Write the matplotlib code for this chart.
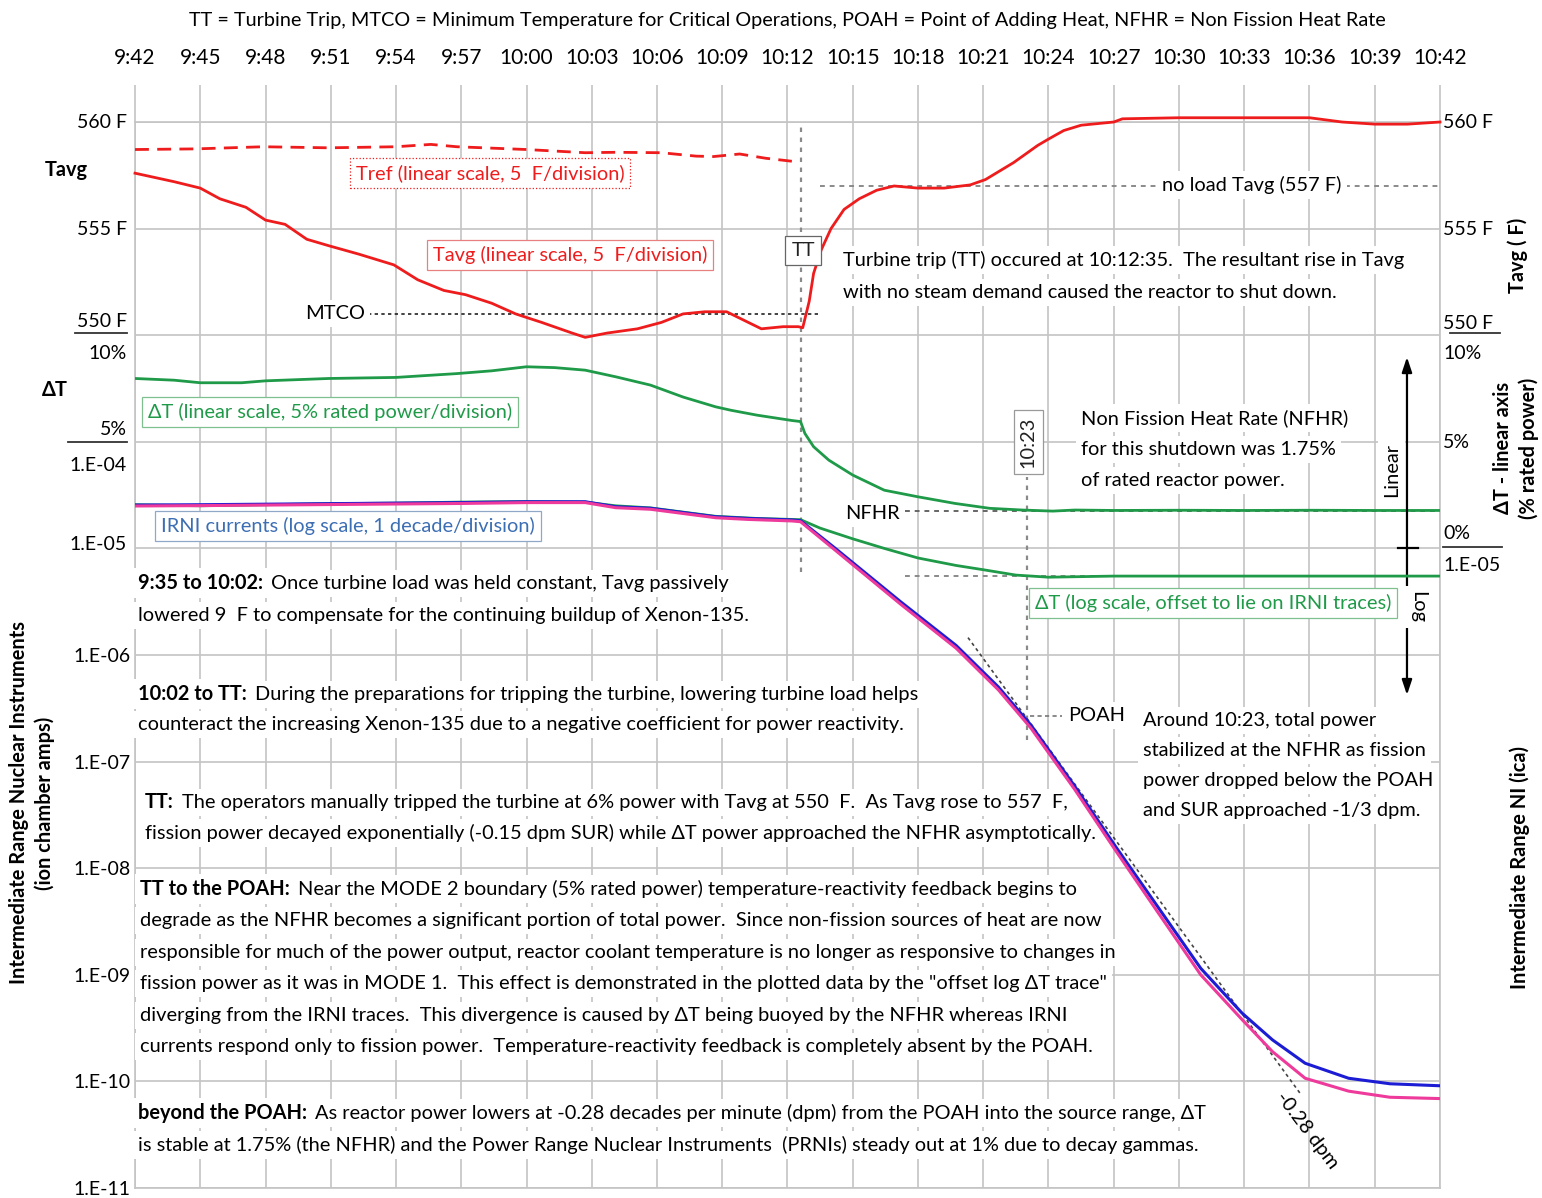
import matplotlib
matplotlib.use("Agg")
import matplotlib.pyplot as plt
from matplotlib.ticker import NullLocator

plt.rcParams["font.family"] = ["Lato", "DejaVu Sans"]

# time axis: minutes after 9:42
tick_min = list(range(0, 61, 3))
tick_lbl = [f"{(9 * 60 + 42 + m) // 60}:{(9 * 60 + 42 + m) % 60:02d}" for m in tick_min]

trip_min = 30.6          # turbine trip at 10:12:35
stab_min = 41.0          # 10:23

# Tavg (F)
tavg_min = [0, 1.8, 3, 3.9, 5.1, 6, 6.9, 7.9, 8.9, 10.3, 11.9, 13, 14.2, 15.2, 16.4,
            17.5, 18.7, 20.1, 20.7, 21.7, 23.1, 24.2, 25.2, 26.2, 27.2, 28.2, 28.8,
            29.8, 30.5, 30.7, 31.0, 31.2, 31.55, 32.0, 32.6, 33.3, 34.1, 34.9, 36,
            37.2, 38.4, 39.1, 40.4, 41.5, 42.0, 42.7, 43.5, 45, 45.4, 48, 51, 54,
            55.5, 57, 58.5, 60]
tavg_f = [557.6, 557.2, 556.9, 556.4, 556.0, 555.4, 555.2, 554.5, 554.2, 553.8, 553.3,
          552.6, 552.1, 551.9, 551.5, 551.0, 550.6, 550.1, 549.9, 550.1, 550.3, 550.6,
          551.0, 551.1, 551.1, 550.6, 550.3, 550.4, 550.4, 550.35, 551.6, 552.9, 554.0,
          555.0, 555.9, 556.4, 556.8, 557.0, 556.9, 556.9, 557.05, 557.3, 558.1, 558.9,
          559.2, 559.6, 559.85, 560.0, 560.15, 560.2, 560.2, 560.2, 560.0, 559.9, 559.9,
          560.0]

# Tref (F), recorded until the trip
tref_min = [0, 2.8, 5.9, 8.9, 12, 13.6, 14.8, 18, 20.7, 22.1, 24.2, 25.8, 26.6, 27.8,
            29.0, 30.2]
tref_f = [558.71, 558.74, 558.84, 558.79, 558.84, 558.95, 558.84, 558.71, 558.56,
          558.58, 558.56, 558.4, 558.38, 558.5, 558.3, 558.16]

# delta-T, % rated power (linear)
dt_min = [0, 1.8, 3, 4.9, 6, 8.9, 12, 14.8, 16.4, 18, 19.3, 20.7, 22.1, 23.7, 25.2,
          26.7, 27.4, 28.6, 30.2, 30.6, 30.8, 31.2, 31.9, 33, 34.45, 36, 37.7, 39.3,
          40.8, 42.2, 43.2, 45, 48, 51, 54, 57, 60]
dt_pct = [7.97, 7.89, 7.77, 7.77, 7.86, 7.97, 8.02, 8.2, 8.33, 8.52, 8.48, 8.36, 8.05,
          7.66, 7.1, 6.64, 6.48, 6.25, 6.0, 5.95, 5.39, 4.77, 4.14, 3.44, 2.73, 2.42,
          2.11, 1.88, 1.80, 1.75, 1.80, 1.78, 1.79, 1.78, 1.79, 1.78, 1.78]
nfhr_pct = 1.75

# IRNI currents (amps)
irni_min = [0, 3, 6, 9, 12, 15, 18, 20.7, 22.1, 23.7, 26.7, 28.2, 30.2, 30.6, 32.2,
            35.2, 37.75, 39.7, 41.2, 43.2, 45.1, 47.05, 49, 50.9, 52.3, 53.8, 55.8,
            57.7, 60]
irni_a = [2.55e-5, 2.57e-5, 2.60e-5, 2.63e-5, 2.66e-5, 2.69e-5, 2.74e-5, 2.74e-5,
          2.46e-5, 2.38e-5, 1.98e-5, 1.91e-5, 1.85e-5, 1.82e-5, 1.0e-5, 3.16e-6,
          1.23e-6, 5.0e-7, 2.19e-7, 5.9e-8, 1.58e-8, 4.27e-9, 1.15e-9, 4.37e-10,
          2.45e-10, 1.48e-10, 1.07e-10, 9.5e-11, 9.1e-11]
irni_b = [2.50e-5, 2.52e-5, 2.55e-5, 2.58e-5, 2.61e-5, 2.64e-5, 2.69e-5, 2.69e-5,
          2.41e-5, 2.33e-5, 1.94e-5, 1.87e-5, 1.81e-5, 1.78e-5, 9.6e-6, 3.0e-6,
          1.16e-6, 4.7e-7, 2.05e-7, 5.5e-8, 1.45e-8, 3.8e-9, 1.0e-9, 3.8e-10,
          1.9e-10, 1.07e-10, 8.1e-11, 7.1e-11, 6.9e-11]

# delta-T on the log axis, offset onto the IRNI traces
dtlog_min = [0, 3, 6, 9, 12, 15, 18, 20.7, 22.1, 23.7, 25.2, 26.7, 28.6, 30.6, 31.5,
             33, 34.45, 36, 37.75, 39, 40.5, 42, 45, 48, 51, 54, 57, 60]
dtlog_a = [2.57e-5, 2.51e-5, 2.57e-5, 2.63e-5, 2.66e-5, 2.72e-5, 2.75e-5, 2.72e-5,
           2.51e-5, 2.40e-5, 2.19e-5, 2.00e-5, 1.91e-5, 1.86e-5, 1.55e-5, 1.23e-5,
           1.0e-5, 8.13e-6, 6.92e-6, 6.31e-6, 5.62e-6, 5.37e-6, 5.50e-6, 5.50e-6,
           5.50e-6, 5.50e-6, 5.50e-6, 5.50e-6]
dtlog_level = 5.5e-6

mtco_f = 551.0
noload_f = 557.0
poah_a = 2.7e-7
sur_dpm = -0.28
sur_mid = (45.95, 1.05e-8)   # point on the -0.28 dpm tangent
sur_span = (38.3, 53.6)

decades = [10.0 ** k for k in range(-11, 0)]
decade_lbl = [f"1.E-{-k:02d}" if k <= -6 else "" for k in range(-11, 0)]

GRID = "#c4c4c4"
RED = "#ee1c1c"
GREEN = "#1f9a48"
BLUE = "#1c1cd4"
MAGENTA = "#ee3a9b"
IRNI_TXT = "#3c6eb4"
FS = 14.4

fig = plt.figure(figsize=(15.42, 11.98), dpi=100)
ax = fig.add_axes([0.08755, 0.00835, 0.8463, 0.8898])
ax.set_xlim(0, 60)
ax.set_yscale("log")
ax.set_ylim(1e-11, 1e-1)
ax.set_xticks(tick_min)
ax.set_xticklabels(tick_lbl)
ax.xaxis.tick_top()
ax.tick_params(axis="x", direction="out", length=26.6, width=1.2, color=GRID,
               pad=12, labelsize=15)
ax.set_yticks(decades)
ax.set_yticklabels(decade_lbl)
ax.yaxis.set_minor_locator(NullLocator())
ax.tick_params(axis="y", length=0, pad=3, labelsize=14, left=True, right=True,
               labelleft=True, labelright=True)
ax.grid(True, color=GRID, lw=1.2)
ax.set_axisbelow(True)
for sp in ax.spines.values():
    sp.set_color(GRID)
    sp.set_linewidth(1.2)

ax_t = ax.twinx()
ax_t.set_ylim(510, 560)
ax_t.set_axis_off()
ax_d = ax.twinx()
ax_d.set_ylim(-30, 20)
ax_d.set_axis_off()
# log traces go on an overlay so they sit above the text boxes
ax_l = ax.twinx()
ax_l.set_yscale("log")
ax_l.set_ylim(1e-11, 1e-1)
ax_l.set_axis_off()

# reference / marker lines
ax.axvline(trip_min, ymin=0.578, ymax=1.0, color="#8a8a8a", lw=1.6, ls=(0, (2, 2.5)), zorder=1.5)
ax.axvline(stab_min, ymin=0.42, ymax=0.667, color="#8a8a8a", lw=1.6, ls=(0, (2, 2.5)), zorder=1.5)
ax_t.plot([10.7, 31.5], [mtco_f, mtco_f], color="#222222", lw=1.2, ls=(0, (2, 2)))
ax_t.plot([31.5, 60], [noload_f, noload_f], color="#8a8a8a", lw=1.4, ls=(0, (2.5, 2.5)))
ax_d.plot([35.4, 60], [nfhr_pct, nfhr_pct], color="#666666", lw=1.4, ls=(0, (2.5, 2.5)))
ax.plot([35.4, 60], [dtlog_level, dtlog_level], color="#8a8a8a", lw=1.4, ls=(0, (2.5, 2.5)), zorder=2)
ax.plot([stab_min + 0.15, 42.6], [poah_a, poah_a], color="#777777", lw=1.2, ls=(0, (2.5, 2)), zorder=2)
tan_y = [sur_mid[1] * 10 ** (sur_dpm * (m - sur_mid[0])) for m in sur_span]
ax.plot(sur_span, tan_y, color="#444444", lw=1.2, ls=(0, (2, 2)), zorder=2.2)

# traces
ax_l.plot(dtlog_min, dtlog_a, color=GREEN, lw=2.0, zorder=2.9)
ax_l.plot(irni_min, irni_a, color=BLUE, lw=2.2, zorder=3)
ax_l.plot(irni_min, irni_b, color=MAGENTA, lw=2.2, zorder=3.1)
ax_t.plot(tref_min, tref_f, color=RED, lw=2.0, ls=(0, (5, 3)))
ax_t.plot(tavg_min, tavg_f, color=RED, lw=2.0, clip_on=False)
ax_d.plot(dt_min, dt_pct, color=GREEN, lw=2.0)

tr = ax_d.transAxes
WHITE = dict(boxstyle="square,pad=0.25", fc="white", ec="none")


def txt(x, y, s, **kw):
    kw.setdefault("fontsize", FS)
    kw.setdefault("va", "center")
    kw.setdefault("ha", "left")
    return ax_d.text(x, y, s, transform=tr, **kw)


def boxed(x, y, s, color, edge, ls="-", **kw):
    return txt(x, y, s, color=color, ha="center",
               bbox=dict(boxstyle="square,pad=0.3", fc="white", ec=edge, lw=0.9, ls=ls), **kw)


def para(x, y0, step, head, lines):
    h = txt(x, y0, head, weight="bold", bbox=WHITE)
    ax_d.annotate(lines[0], xy=(1, 0.5), xycoords=h, xytext=(6, 0),
                  textcoords="offset points", va="center", ha="left",
                  fontsize=FS, bbox=WHITE)
    for i, s in enumerate(lines[1:], 1):
        txt(x, y0 - i * step, s, bbox=WHITE)


fig.text(0.5104, 0.983, "TT = Turbine Trip, MTCO = Minimum Temperature for Critical Operations, "
         "POAH = Point of Adding Heat, NFHR = Non Fission Heat Rate",
         ha="center", va="center", fontsize=14.3)

# left side labels
for y, s in [(1.0, "560 F"), (0.8996, "555 F"), (0.8124, "550 F"), (0.7824, "10%"),
             (0.7111, "5%"), (0.6782, "1.E-04"), (0.6032, "1.E-05")]:
    txt(-0.0061, y, s, ha="right", fontsize=14)
txt(-0.0529, 0.955, "Tavg", ha="center", weight="bold")
txt(-0.0613, 0.7486, "ΔT", ha="center", weight="bold")
ax_d.plot([-0.046, -0.006], [0.802, 0.802], transform=tr, color="#333333", lw=1.3, clip_on=False)
ax_d.plot([-0.0513, -0.006], [0.6998, 0.6998], transform=tr, color="#333333", lw=1.3, clip_on=False)
txt(-0.0789, 0.3612, "Intermediate Range Nuclear Instruments\n(ion chamber amps)",
    ha="center", weight="bold", rotation=90, linespacing=1.3)

# right side labels
for y, s in [(1.0, "560 F"), (0.8996, "555 F"), (0.8114, "550 F"), (0.7824, "10%"),
             (0.6989, "5%"), (0.6144, "0%"), (0.5835, "1.E-05")]:
    txt(1.0023, y, s, fontsize=14)
ax_d.plot([1.0077, 1.046], [0.802, 0.802], transform=tr, color="#333333", lw=1.3, clip_on=False)
ax_d.plot([1.0023, 1.0475], [0.6013, 0.6013], transform=tr, color="#333333", lw=1.3, clip_on=False)
txt(1.0598, 0.8752, "Tavg ( F)", ha="center", weight="bold", rotation=90)
txt(1.0582, 0.6942, "ΔT - linear axis\n(% rated power)", ha="center", weight="bold",
    rotation=90, linespacing=1.3)
txt(1.0613, 0.3002, "Intermediate Range NI (ica)", ha="center", weight="bold", rotation=90)

# trace labels
boxed(0.272, 0.9522, "Tref (linear scale, 5  F/division)", RED, RED, ls=":")
boxed(0.3333, 0.8752, "Tavg (linear scale, 5  F/division)", RED, "#e88080")
boxed(0.1494, 0.7280, "ΔT (linear scale, 5% rated power/division)", GREEN, "#80c090")
boxed(0.1632, 0.6210, "IRNI currents (log scale, 1 decade/division)", IRNI_TXT, "#90a8c8")
boxed(0.8261, 0.5488, "ΔT (log scale, offset to lie on IRNI traces)", GREEN, "#80c090")
boxed(0.5119, 0.8799, "TT", "#222222", "#666666")
boxed(0.6843, 0.6998, "10:23", "#222222", "#999999", rotation=90)

txt(0.1762, 0.8199, "MTCO", ha="right", bbox=WHITE)
txt(0.8559, 0.9409, "no load Tavg (557 F)", ha="center", bbox=WHITE)
txt(0.5862, 0.6332, "NFHR", ha="right", bbox=WHITE)
txt(0.7149, 0.4428, "POAH", bbox=WHITE)
txt(0.8981, 0.0544, "-0.28 dpm", ha="center", rotation=-53)

txt(0.5425, 0.8705, "Turbine trip (TT) occured at 10:12:35.  The resultant rise in Tavg", bbox=WHITE)
txt(0.5425, 0.8396, "with no steam demand caused the reactor to shut down.", bbox=WHITE)
for i, s in enumerate(["Non Fission Heat Rate (NFHR)", "for this shutdown was 1.75%",
                       "of rated reactor power."]):
    txt(0.7249, 0.7223 - i * 0.0291, s, bbox=WHITE)
for i, s in enumerate(["Around 10:23, total power", "stabilized at the NFHR as fission",
                       "power dropped below the POAH", "and SUR approached -1/3 dpm."]):
    txt(0.7724, 0.4390 - i * 0.0282, s, bbox=WHITE)

# linear / log arrow
ax_d.annotate("", xy=(0.9747, 0.7795), xytext=(0.9747, 0.4625), xycoords=tr,
              arrowprops=dict(arrowstyle="<|-|>,head_length=0.9,head_width=0.3",
                              color="black", lw=1.6, shrinkA=0, shrinkB=0))
ax_d.plot([0.9678, 0.9831], [0.6004, 0.6004], transform=tr, color="black", lw=1.6)
txt(0.9632, 0.6735, "Linear", ha="center", rotation=90, bbox=WHITE)
txt(0.9831, 0.545, "Log", ha="center", rotation=-90, bbox=WHITE)

# narrative paragraphs
para(0.0023, 0.5675, 0.030, "9:35 to 10:02:",
     ["Once turbine load was held constant, Tavg passively",
      "lowered 9  F to compensate for the continuing buildup of Xenon-135."])
para(0.0023, 0.4634, 0.029, "10:02 to TT:",
     ["During the preparations for tripping the turbine, lowering turbine load helps",
      "counteract the increasing Xenon-135 due to a negative coefficient for power reactivity."])
para(0.0077, 0.3621, 0.029, "TT:",
     ["The operators manually tripped the turbine at 6% power with Tavg at 550  F.  As Tavg rose to 557  F,",
      "fission power decayed exponentially (-0.15 dpm SUR) while ΔT power approached the NFHR asymptotically."])
para(0.0038, 0.2805, 0.02964, "TT to the POAH:",
     ["Near the MODE 2 boundary (5% rated power) temperature-reactivity feedback begins to",
      "degrade as the NFHR becomes a significant portion of total power.  Since non-fission sources of heat are now",
      "responsible for much of the power output, reactor coolant temperature is no longer as responsive to changes in",
      "fission power as it was in MODE 1.  This effect is demonstrated in the plotted data by the \"offset log ΔT trace\"",
      "diverging from the IRNI traces.  This divergence is caused by ΔT being buoyed by the NFHR whereas IRNI",
      "currents respond only to fission power.  Temperature-reactivity feedback is completely absent by the POAH."])
para(0.0023, 0.0704, 0.0301, "beyond the POAH:",
     ["As reactor power lowers at -0.28 decades per minute (dpm) from the POAH into the source range, ΔT",
      "is stable at 1.75% (the NFHR) and the Power Range Nuclear Instruments  (PRNIs) steady out at 1% due to decay gammas."])

fig.savefig("out.png", dpi=100)
